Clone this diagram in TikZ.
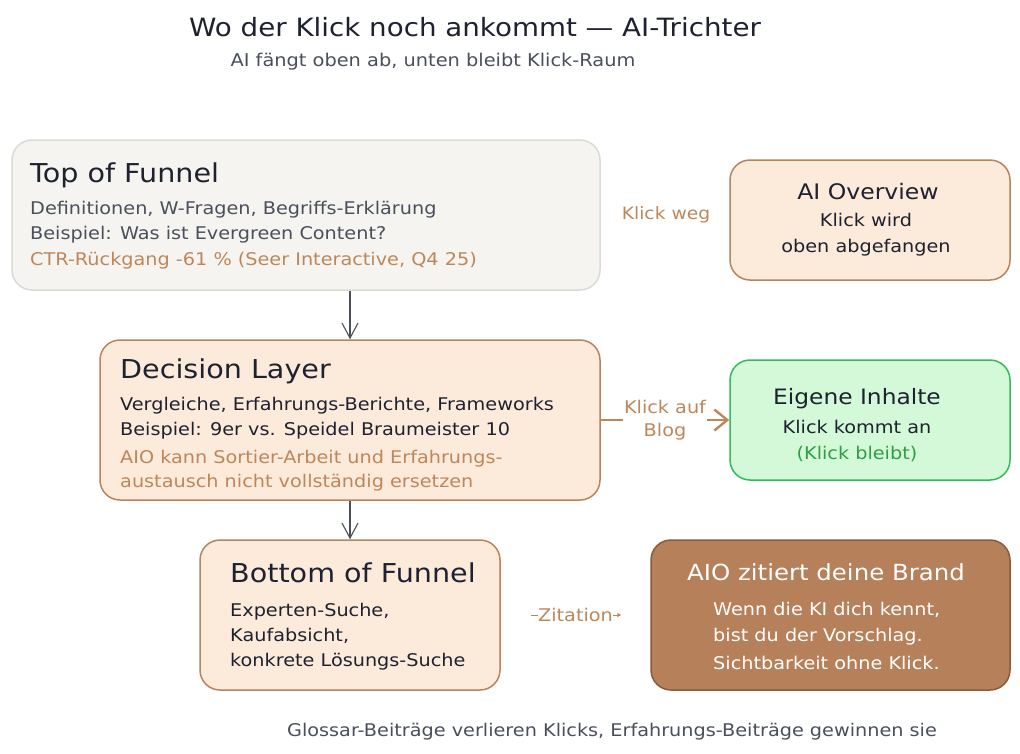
\documentclass[tikz,border=0pt]{standalone}
\usepackage{fontspec}
\setmainfont{DejaVu Sans}[FakeStretch=1.1]
\usetikzlibrary{arrows.meta}
\definecolor{ink}{HTML}{1E2230}
\definecolor{grayink}{HTML}{4A4F5C}
\definecolor{brownink}{HTML}{BF8759}
\definecolor{topfill}{HTML}{F5F4F0}
\definecolor{topline}{HTML}{DCDAD5}
\definecolor{peach}{HTML}{FCEADB}
\definecolor{peachline}{HTML}{B8845C}
\definecolor{greenfill}{HTML}{D3F9D8}
\definecolor{greenline}{HTML}{35BA5A}
\definecolor{greenink}{HTML}{2F9E44}
\definecolor{aiofill}{HTML}{B5805A}
\definecolor{aioline}{HTML}{8B5B3B}
\definecolor{arrowink}{HTML}{4A4F5A}
\newcommand{\fs}[1]{\fontsize{#1}{#1}\selectfont}
\tikzset{
  box/.style={draw, rounded corners=20pt, line width=1.5pt, inner sep=0pt},
  txt/.style={anchor=base west, inner sep=0pt, font=\fs{17.5}},
  ctxt/.style={anchor=base, inner sep=0pt, font=\fs{17.5}},
  head/.style={anchor=base west, inner sep=0pt, font=\fs{26}, text=ink},
  flow/.style={draw=arrowink, line width=1.1pt, -{Straight Barb[length=15pt,width=16pt,line width=1.1pt]}},
  blog/.style={draw=brownink, line width=2.4pt, -{Straight Barb[length=13pt,width=21pt,line width=2.4pt]}},
  zit/.style={draw=brownink, line width=1pt, -{Triangle[length=4pt,width=4pt]}, shorten <=30pt, shorten >=29pt},
  lbl/.style={inner sep=1pt, text=brownink, font=\fs{17}, align=center},
}
\begin{document}
\begin{tikzpicture}[x=1pt,y=-1pt]
\useasboundingbox[fill=white] (0,0) rectangle (1020,753);

% title
\node[anchor=base, inner sep=0pt, font=\fs{25.2}, text=ink] (title) at (475,36) {Wo der Klick noch ankommt — AI-Trichter};
\node[anchor=base, inner sep=0pt, font=\fs{17.6}, text=grayink] (subtitle) at (433,66) {AI fängt oben ab, unten bleibt Klick-Raum};

% boxes
\node[box, draw=topline, fill=topfill, minimum width=588pt, minimum height=150pt] (top) at (306,215) {};
\node[box, draw=peachline, fill=peach, minimum width=280pt, minimum height=120pt] (aio) at (870,220) {};
\node[box, draw=peachline, fill=peach, minimum width=500pt, minimum height=160pt] (dec) at (350,420) {};
\node[box, draw=greenline, fill=greenfill, minimum width=280pt, minimum height=120pt] (own) at (870,420) {};
\node[box, draw=peachline, fill=peach, minimum width=300pt, minimum height=150pt] (bot) at (350,615) {};
\node[box, draw=aioline, fill=aiofill, minimum width=359pt, minimum height=150pt] (brand) at (830.5,615) {};

% top text
\node[head] (toph) at (30,182) {Top of Funnel};
\node[txt, text=grayink] (top1) at (30,214) {Definitionen, W-Fragen, Begriffs-Erklärung};
\node[txt, text=grayink] (top2) at (30,239) {Beispiel: Was ist Evergreen Content?};
\node[txt, text=brownink] (top3) at (30,265) {CTR-Rückgang -61 \% (Seer Interactive, Q4 25)};

% AI overview text
\node[ctxt, font=\fs{21.4}, text=ink] (aioh) at (868,199) {AI Overview};
\node[ctxt, text=ink] (aio1) at (866,226) {Klick wird};
\node[ctxt, text=ink] (aio2) at (866,252) {oben abgefangen};
\node[lbl] (weg) at (666,215) {Klick weg};

% decision text
\node[head] (dech) at (120,378) {Decision Layer};
\node[txt, text=ink] (dec1) at (120,410) {Vergleiche, Erfahrungs-Berichte, Frameworks};
\node[txt, text=ink] (dec2) at (120,435) {Beispiel: 9er vs. Speidel Braumeister 10};
\node[txt, text=brownink] (dec3) at (120,463) {AIO kann Sortier-Arbeit und Erfahrungs-};
\node[txt, text=brownink] (dec4) at (120,487) {austausch nicht vollständig ersetzen};

% own content text
\node[ctxt, font=\fs{21.2}, text=ink] (ownh) at (857,404) {Eigene Inhalte};
\node[ctxt, text=ink] (own1) at (857,433) {Klick kommt an};
\node[ctxt, text=greenink] (own2) at (857,459) {(Klick bleibt)};

% bottom text
\node[head] (both) at (230,582) {Bottom of Funnel};
\node[txt, text=ink] (bot1) at (230,616) {Experten-Suche,};
\node[txt, text=ink] (bot2) at (230,641) {Kaufabsicht,};
\node[txt, text=ink] (bot3) at (230,666) {konkrete Lösungs-Suche};

% brand text
\node[ctxt, font=\fs{22.2}, text=white] (brandh) at (826,580) {AIO zitiert deine Brand};
\node[txt, text=white] (brand1) at (713,615) {Wenn die KI dich kennt,};
\node[txt, text=white] (brand2) at (713,641) {bist du der Vorschlag.};
\node[txt, text=white] (brand3) at (713,669) {Sichtbarkeit ohne Klick.};

% footer
\node[anchor=base, inner sep=0pt, font=\fs{17.5}, text=grayink] (foot) at (612,736) {Glossar-Beiträge verlieren Klicks, Erfahrungs-Beiträge gewinnen sie};

% connectors
\draw[flow] (top.south -| dec.north) -- (dec.north);
\draw[flow] (dec.south) -- (bot.north);
\draw[blog] (dec.east) -- node[lbl, fill=white, font=\fs{17.5}, align=center] (blogl) {Klick auf\\[5pt]Blog} (own.west);
\draw[zit] (bot.east) -- node[lbl, fill=white, font=\fs{17.5}, inner sep=0.5pt] (zitl) {Zitation} (brand.west);
\end{tikzpicture}
\end{document}
